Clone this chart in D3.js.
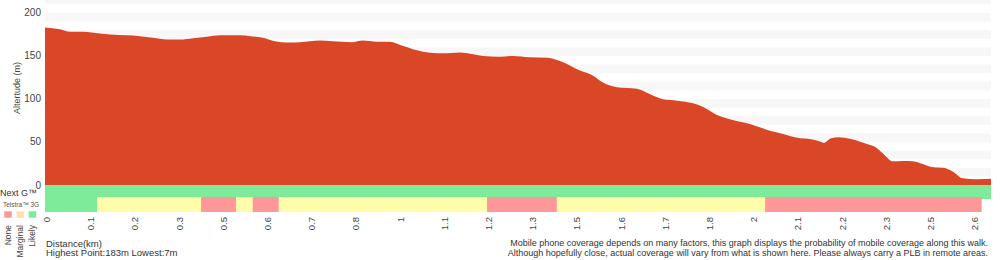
<!DOCTYPE html>
<html>
<head>
<meta charset="utf-8">
<script src="https://cdn.jsdelivr.net/npm/d3@7"></script>
<style>
  html, body { margin: 0; padding: 0; background: #fff; }
  svg { display: block; font-family: "Liberation Sans", Arial, Helvetica, sans-serif; }
</style>
</head>
<body>
<svg id="chart" width="1000" height="260"></svg>
<script>
// ---- data ----
const tickLabels = ["0","0.1","0.2","0.3","0.5","0.6","0.7","0.8","1","1.1","1.2","1.3","1.5","1.6","1.7","1.8","2","2.1","2.2","2.3","2.5","2.6"];
const xEnd = 21.4; // total length in tick-label steps

// elevation profile: position (in tick-label steps) and altitude (m)
const profilePos = [0,0.34,0.57,0.86,1.24,1.47,1.85,2.15,2.44,2.76,3.05,3.35,3.66,3.96,4.41,4.64,4.93,5.20,5.50,5.77,6.22,6.51,6.94,7.19,7.51,7.80,8.10,8.55,9.00,9.39,9.91,10.29,10.59,10.97,11.38,11.65,12.10,12.40,12.62,12.94,13.39,13.69,13.98,14.30,14.66,14.88,15.20,15.56,15.72,15.95,16.17,16.40,16.63,16.85,17.08,17.30,17.53,17.62,17.78,17.96,18.21,18.44,18.59,18.77,18.95,19.18,19.41,19.63,19.86,20.09,20.32,20.54,20.76,21.08,21.40];
const profileElev = [183,181,178,178,176,175,174,173,171,169,169,170.5,172.4,174,174,173,171,167,165.5,166,168,167,166,168,166.6,166.6,161.6,155,153,154,150,149,150,148.5,148,144,133,127,119,113.6,112,105.5,99.7,98,95,91,81.4,75.6,73.5,71,67,63,60,57,54.3,53.5,50.5,49,54.3,55.6,53.7,50.3,47.7,44.5,37,27.5,28,27.6,24.4,20.5,20,15.5,7.8,6.8,7.3];

// y axis
const yTicks = [0,50,100,150,200];
const yMax = 215;

// coverage
const coverageColors = { none: "#fe9898", marginal: "#fffdaa", likely: "#7deb98" };
const nextGStart = [0];
const nextGEnd = [21.4];
const nextGLevel = ["likely"];
const threeGStart = [0,1.18,3.53,4.32,4.70,5.29,10.00,11.58,16.29];
const threeGEnd   = [1.18,3.53,4.32,4.70,5.29,10.00,11.58,16.29,21.19];
const threeGLevel = ["likely","marginal","none","marginal","none","marginal","none","marginal","none"];

const legendLabels = ["None","Marginal","Likely"];
const legendColors = ["#fe9898","#ffe0a8","#7deb98"];

// ---- drawing ----
const svg = d3.select("#chart");
const plotLeft = 45, plotRight = 991, plotTop = 0, plotBase = 185;
const x = d3.scaleLinear().domain([0, xEnd]).range([plotLeft, plotRight]);
const y = d3.scaleLinear().domain([0, yMax]).range([plotBase, plotTop]);

// stripes every 10 m (odd bands grey)
const bands = d3.range(10, yMax, 20).map(v => [v, Math.min(v + 10, yMax)]);
svg.append("g").selectAll("rect").data(bands).join("rect")
  .attr("x", plotLeft).attr("width", plotRight - plotLeft)
  .attr("y", d => y(d[1])).attr("height", d => y(d[0]) - y(d[1]))
  .attr("fill", "#f7f7f7");

// area
const pts = profilePos.map((p, i) => [p, profileElev[i]]);
const area = d3.area().x(d => x(d[0])).y0(y(0)).y1(d => y(d[1])).curve(d3.curveMonotoneX);
svg.append("path").datum(pts).attr("d", area).attr("fill", "#d94727");

// coverage bars
const nextG = nextGStart.map((s, i) => ({ s, e: nextGEnd[i], l: nextGLevel[i] }));
svg.append("g").selectAll("rect").data(nextG).join("rect")
  .attr("x", d => x(d.s)).attr("width", d => x(d.e) - x(d.s))
  .attr("y", 185).attr("height", 14)
  .attr("fill", d => coverageColors[d.l]);
const threeG = threeGStart.map((s, i) => ({ s, e: threeGEnd[i], l: threeGLevel[i] }));
svg.append("g").selectAll("rect").data(threeG).join("rect")
  .attr("x", d => x(d.s)).attr("width", d => x(d.e) - x(d.s))
  .attr("y", 197).attr("height", 15)
  .attr("fill", d => coverageColors[d.l]);

// y axis labels
svg.append("g").selectAll("text").data(yTicks).join("text")
  .attr("x", 41).attr("y", d => y(d)).attr("dy", "0.35em")
  .attr("text-anchor", "end").attr("font-size", 10).attr("fill", "#444")
  .text(d => d);

svg.append("text")
  .attr("transform", "translate(20,88) rotate(-90)")
  .attr("text-anchor", "middle").attr("font-size", 9).attr("fill", "#444")
  .text("Altertude (m)");

// x tick labels
svg.append("g").selectAll("text").data(tickLabels).join("text")
  .attr("transform", (d, i) => `translate(${x(i) + 5},217) rotate(-90)`)
  .attr("text-anchor", "end").attr("font-size", 9.5).attr("fill", "#444")
  .text(d => d);

// legend
svg.append("text").attr("x", 0).attr("y", 196).attr("font-size", 9).attr("fill", "#333").text("Next G\u2122");
svg.append("text").attr("x", 3).attr("y", 207).attr("font-size", 6.5).attr("fill", "#555").text("Telstra\u2122 3G");
svg.append("g").selectAll("rect").data(legendColors).join("rect")
  .attr("x", (d, i) => 4 + i * 12.2).attr("y", 211).attr("width", 8).attr("height", 7)
  .attr("fill", d => d).attr("stroke", "#fff").attr("stroke-width", 0.5);
svg.append("g").selectAll("text").data(legendLabels).join("text")
  .attr("transform", (d, i) => `translate(${11 + i * 12.2},225) rotate(-90)`)
  .attr("text-anchor", "end").attr("font-size", 8.5).attr("fill", "#444")
  .text(d => d);

// footer
svg.append("text").attr("x", 46).attr("y", 247).attr("font-size", 9.5).attr("fill", "#333").text("Distance(km)");
svg.append("text").attr("x", 46).attr("y", 256).attr("font-size", 9.5).attr("fill", "#333").text("Highest Point:183m Lowest:7m");
svg.append("text").attr("x", 988).attr("y", 246).attr("text-anchor", "end").attr("font-size", 9).attr("fill", "#333")
  .text("Mobile phone coverage depends on many factors, this graph displays the probability of mobile coverage along this walk.");
svg.append("text").attr("x", 988).attr("y", 256).attr("text-anchor", "end").attr("font-size", 9).attr("fill", "#333")
  .text("Although hopefully close, actual coverage will vary from what is shown here. Please always carry a PLB in remote areas.");
</script>
</body>
</html>
